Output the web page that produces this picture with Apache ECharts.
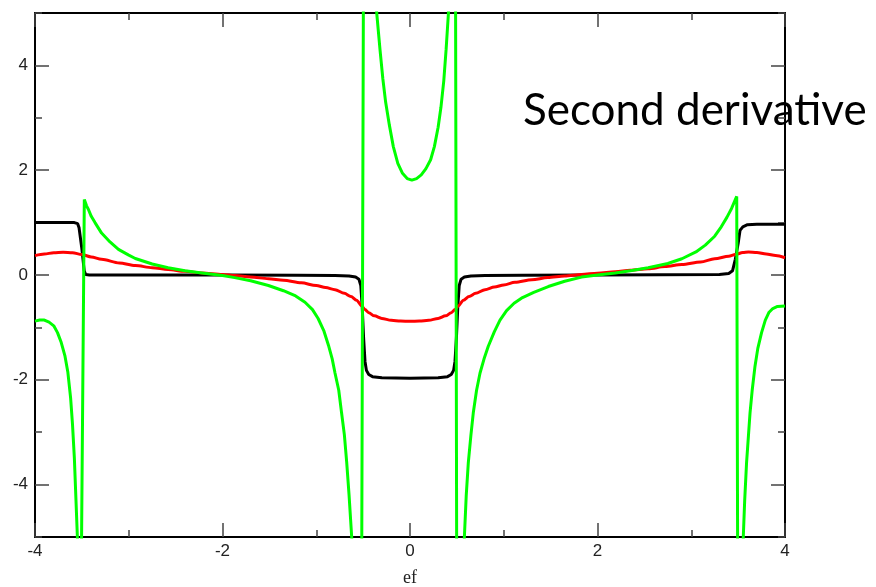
<!DOCTYPE html>
<html>
<head>
<meta charset="utf-8">
<script src="https://cdn.jsdelivr.net/npm/echarts@6/dist/echarts.min.js"></script>
<style>
  html, body { margin: 0; padding: 0; background: #fff; }
  #container { width: 876px; height: 587px; }
</style>
</head>
<body>
<div id="container"></div>
<script>
// values, [ef, value]
let blackCurve = [
    [-4, 1], [-3.58, 1], [-3.545, 0.98], [-3.53, 0.9], [-3.5, 0.5], [-3.475, 0.08], [-3.46, 0.01], [-3.42, 0],
    [-2, 0], [-1.2, -0.005], [-0.8, -0.01], [-0.65, -0.02], [-0.58, -0.04], [-0.545, -0.08], [-0.525, -0.2],
    [-0.51, -0.6], [-0.495, -1.2], [-0.48, -1.65], [-0.465, -1.82], [-0.44, -1.9], [-0.4, -1.94], [-0.3, -1.96],
    [0, -1.97], [0.3, -1.96], [0.4, -1.94], [0.44, -1.9], [0.465, -1.82], [0.48, -1.65], [0.495, -1.2],
    [0.51, -0.6], [0.525, -0.2], [0.545, -0.08], [0.58, -0.04], [0.65, -0.02], [0.8, -0.01], [1.2, -0.005],
    [2, 0], [3.3, 0.01], [3.4, 0.03], [3.44, 0.08], [3.47, 0.3], [3.5, 0.6], [3.52, 0.85], [3.55, 0.92],
    [3.6, 0.96], [3.7, 0.97], [4, 0.97]
];
let redCurve = [
    [-4, 0.37], [-3.9, 0.4], [-3.8, 0.425], [-3.7, 0.435], [-3.6, 0.425], [-3.5, 0.39], [-3.4, 0.345],
    [-3.29, 0.3], [-3.1, 0.23], [-2.93, 0.18], [-2.75, 0.14], [-2.58, 0.105], [-2.4, 0.07], [-2.22, 0.04],
    [-2.0, 0.01], [-1.87, -0.01], [-1.7, -0.04], [-1.51, -0.07], [-1.35, -0.1], [-1.16, -0.15], [-1.0, -0.2],
    [-0.9, -0.24], [-0.8, -0.28], [-0.7, -0.35], [-0.63, -0.41], [-0.57, -0.48], [-0.515, -0.59], [-0.48, -0.66],
    [-0.44, -0.72], [-0.38, -0.78], [-0.3, -0.83], [-0.2, -0.865], [-0.1, -0.88], [0, -0.885], [0.1, -0.88],
    [0.2, -0.865], [0.3, -0.83], [0.38, -0.78], [0.44, -0.72], [0.48, -0.66], [0.515, -0.59], [0.57, -0.48],
    [0.63, -0.41], [0.7, -0.35], [0.8, -0.28], [0.9, -0.23], [1.0, -0.19], [1.12, -0.14], [1.3, -0.09],
    [1.47, -0.05], [1.65, -0.02], [1.83, 0.01], [2.0, 0.035], [2.19, 0.06], [2.35, 0.09], [2.54, 0.12],
    [2.72, 0.16], [2.9, 0.2], [3.1, 0.25], [3.25, 0.31], [3.4, 0.36], [3.47, 0.39], [3.55, 0.43], [3.61, 0.44],
    [3.7, 0.43], [3.8, 0.4], [3.9, 0.37], [4, 0.33]
];
let greenCurve = [
    [-4, -0.88], [-3.95, -0.86], [-3.9, -0.86], [-3.85, -0.9], [-3.8, -0.97], [-3.76, -1.1], [-3.72, -1.29],
    [-3.68, -1.55], [-3.65, -1.85], [-3.62, -2.35], [-3.6, -2.85], [-3.58, -3.5], [-3.565, -4.2], [-3.548, -5],
    [-3.54, -5.4], [-3.505, -5.4], [-3.474, 1.44],
    [-3.45, 1.32], [-3.43, 1.25], [-3.4, 1.12], [-3.36, 1.0], [-3.29, 0.8], [-3.2, 0.63], [-3.11, 0.49],
    [-3.0, 0.38], [-2.93, 0.315], [-2.75, 0.21], [-2.58, 0.14], [-2.4, 0.08], [-2.22, 0.04], [-2.0, -0.01],
    [-1.87, -0.05], [-1.7, -0.11], [-1.51, -0.2], [-1.35, -0.3], [-1.22, -0.4], [-1.12, -0.52], [-1.04, -0.66],
    [-0.98, -0.83], [-0.92, -1.06], [-0.87, -1.34], [-0.83, -1.6], [-0.8, -1.87], [-0.76, -2.2], [-0.73, -2.63],
    [-0.7, -3.05], [-0.675, -3.58], [-0.65, -4.2], [-0.622, -5], [-0.61, -5.4], [-0.515, -5.4], [-0.497, 5.4],
    [-0.37, 5.4], [-0.355, 5.0], [-0.32, 4.3], [-0.29, 3.75], [-0.26, 3.3], [-0.22, 2.86], [-0.178, 2.45],
    [-0.13, 2.13], [-0.08, 1.94], [-0.03, 1.84], [0.02, 1.81], [0.07, 1.84], [0.12, 1.91], [0.17, 2.03],
    [0.22, 2.2], [0.26, 2.45], [0.3, 2.82], [0.33, 3.2], [0.36, 3.7], [0.385, 4.3], [0.41, 5.0], [0.425, 5.4],
    [0.486, 5.4], [0.498, -5.4], [0.57, -5.4],
    [0.58, -5], [0.6, -4.2], [0.622, -3.58], [0.65, -3.05], [0.675, -2.63], [0.71, -2.2], [0.747, -1.87],
    [0.79, -1.6], [0.835, -1.36], [0.9, -1.08], [0.96, -0.86], [1.03, -0.68], [1.11, -0.54], [1.2, -0.43],
    [1.32, -0.33], [1.475, -0.22], [1.65, -0.12], [1.83, -0.04], [2.0, 0.0], [2.19, 0.04], [2.35, 0.08],
    [2.54, 0.14], [2.75, 0.22], [2.9, 0.31], [3.05, 0.44], [3.15, 0.57], [3.25, 0.74], [3.32, 0.92],
    [3.38, 1.1], [3.43, 1.27], [3.485, 1.5], [3.495, -5.4], [3.55, -5.4],
    [3.555, -5], [3.57, -4.3], [3.59, -3.58], [3.627, -2.63], [3.65, -2.2], [3.68, -1.74], [3.71, -1.4],
    [3.75, -1.1], [3.79, -0.86], [3.83, -0.71], [3.87, -0.64], [3.92, -0.6], [4, -0.59]
];
let yMajorTicks = [-4, -2, 0, 2, 4];
let yMinorTicks = [-5, -3, -1, 1, 3, 5];

let dom = document.getElementById("container");
let myChart = echarts.init(dom);

let frameLine = { show: true, onZero: false, lineStyle: { color: '#000', width: 2 } };
let tickStyle = { color: '#444', width: 1.5 };
let labelFont = { fontFamily: 'Liberation Sans', fontSize: 17, color: '#222' };

function xAxisFor(pos, withLabels) {
    return {
        type: 'value', position: pos, min: -4, max: 4, interval: 2,
        axisLine: frameLine,
        axisTick: { show: true, inside: true, length: 14, lineStyle: tickStyle },
        minorTick: { show: true, splitNumber: 2, length: 7, lineStyle: tickStyle },
        axisLabel: Object.assign({ show: withLabels, margin: 6 }, labelFont),
        splitLine: { show: false },
        name: withLabels ? 'ef' : '',
        nameLocation: 'middle',
        nameGap: 32,
        nameTextStyle: { fontFamily: 'Liberation Serif', fontSize: 18, color: '#222' }
    };
}
function yAxisFor(pos, ticks, len, withLine, withLabels) {
    return {
        type: 'value', position: pos, min: -5, max: 5,
        axisLine: withLine ? frameLine : { show: false, onZero: false },
        axisTick: { show: true, inside: true, length: len, customValues: ticks, lineStyle: tickStyle },
        axisLabel: Object.assign({ show: withLabels, margin: 7, customValues: yMajorTicks }, labelFont),
        splitLine: { show: false }
    };
}

option = {
    animation: false,
    backgroundColor: '#fff',
    grid: { left: 35, right: 91, top: 13, bottom: 50, outerBoundsMode: 'none' },
    title: {
        text: 'Second derivative',
        left: 519,
        top: 87,
        padding: [2, 4],
        textStyle: { fontFamily: 'Lato', fontSize: 44, fontWeight: 'normal', color: '#000' }
    },
    xAxis: [xAxisFor('bottom', true), xAxisFor('top', false)],
    yAxis: [
        yAxisFor('left', yMajorTicks, 14, true, true),
        yAxisFor('left', yMinorTicks, 7, false, false),
        yAxisFor('right', yMajorTicks, 14, true, false),
        yAxisFor('right', yMinorTicks, 7, false, false)
    ],
    series: [
        { type: 'line', data: blackCurve, showSymbol: false, clip: true, lineStyle: { color: '#000', width: 3 } },
        { type: 'line', data: redCurve, showSymbol: false, clip: true, smooth: 0.3, smoothMonotone: 'x', lineStyle: { color: '#ff0000', width: 3 } },
        { type: 'line', data: greenCurve, showSymbol: false, clip: true, lineStyle: { color: '#00ff00', width: 3 } }
    ]
};
if (option && typeof option === "object") {
    myChart.setOption(option, true);
}
</script>
</body>
</html>
